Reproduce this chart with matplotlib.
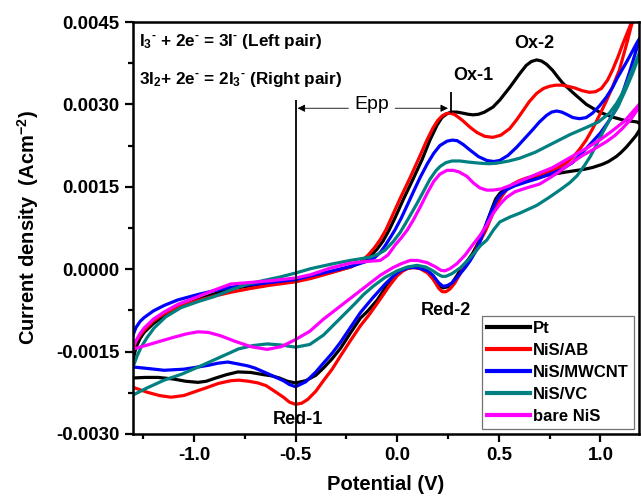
import matplotlib
matplotlib.use('Agg')
import matplotlib.pyplot as plt
from matplotlib.ticker import MultipleLocator, FormatStrFormatter

plt.rcParams['font.family'] = ['Liberation Sans', 'DejaVu Sans']
plt.rcParams['font.weight'] = 'bold'
plt.rcParams['axes.labelweight'] = 'bold'
plt.rcParams['axes.unicode_minus'] = False
plt.rcParams['mathtext.fontset'] = 'custom'
plt.rcParams['mathtext.rm'] = 'Liberation Sans:bold'
plt.rcParams['mathtext.bf'] = 'Liberation Sans:bold'
plt.rcParams['mathtext.default'] = 'bf'

# cyclic voltammograms, one closed loop per electrode (forward scan, then reverse scan)
pt_x = [-1.33, -1.30, -1.285, -1.265, -1.245, -1.20, -1.147, -1.08, -0.98, -0.90, -0.819, -0.72,
        -0.623, -0.50, -0.426, -0.33, -0.23, -0.18, -0.132, -0.10, -0.07, -0.04, -0.01, 0.029,
        0.078, 0.123, 0.16, 0.196, 0.22, 0.245, 0.265, 0.295, 0.324, 0.35, 0.373, 0.40, 0.43,
        0.471, 0.505, 0.554, 0.603, 0.635, 0.66, 0.686, 0.71, 0.735, 0.765, 0.79, 0.814, 0.84,
        0.863, 0.90, 0.931, 0.995, 1.059, 1.118, 1.181, 1.205,
        1.19, 1.175, 1.157, 1.127, 1.10, 1.078, 1.04, 1.010, 0.96, 0.922, 0.833, 0.735, 0.637,
        0.58, 0.554, 0.525, 0.505, 0.485, 0.471, 0.45, 0.43, 0.41, 0.392, 0.37, 0.343, 0.325,
        0.309, 0.290, 0.270, 0.25, 0.225, 0.205, 0.19, 0.176, 0.15, 0.113, 0.08, 0.05, 0.015,
        -0.02, -0.049, -0.10, -0.147, -0.181, -0.23, -0.279, -0.32, -0.363, -0.40, -0.45, -0.50,
        -0.54, -0.58, -0.62, -0.657, -0.72, -0.784, -0.84, -0.892, -0.94, -0.98, -1.04, -1.10,
        -1.176, -1.24, -1.30, -1.33]
pt_y = [-0.00190, -0.00166, -0.00142, -0.00126, -0.00115, -0.00099, -0.00085, -0.00071, -0.00055,
        -0.00045, -0.00036, -0.00030, -0.00025, -0.00021, -0.00015, -0.00006, 0.00004, 0.00012,
        0.00024, 0.00036, 0.00051, 0.00071, 0.00094, 0.00126, 0.00164, 0.00200, 0.00234, 0.00262,
        0.00276, 0.00283, 0.00286, 0.00286, 0.00284, 0.00282, 0.00281, 0.00282, 0.00286, 0.00295,
        0.00308, 0.00331, 0.00356, 0.00371, 0.00378, 0.00381, 0.00379, 0.00373, 0.00362, 0.00350,
        0.00339, 0.00330, 0.00322, 0.00310, 0.00300, 0.00286, 0.00277, 0.00271, 0.00268, 0.00262,
        0.00252, 0.00243, 0.00235, 0.00222, 0.00212, 0.00205, 0.00196, 0.00191, 0.00185, 0.00182,
        0.00177, 0.00171, 0.00162, 0.00154, 0.00149, 0.00144, 0.00138, 0.00128, 0.00115, 0.00094,
        0.00074, 0.00057, 0.00043, 0.00028, 0.00014, 0.00005, -0.00003, -0.00014, -0.00025,
        -0.00032, -0.00034, -0.00029, -0.00021, -0.00014, -0.00005, 0.00002, 0.00004, 0.00002,
        -0.00004, -0.00015, -0.00029, -0.00057, -0.00077, -0.00089, -0.00116, -0.00144, -0.00163,
        -0.00180, -0.00193, -0.00203, -0.00207, -0.00204, -0.00198, -0.00194, -0.00192, -0.00188,
        -0.00187, -0.00192, -0.00198, -0.00204, -0.00206, -0.00204, -0.00200, -0.00197, -0.00197,
        -0.00198, -0.00190]

ab_x = [-1.33, -1.30, -1.285, -1.265, -1.245, -1.20, -1.147, -1.08, -0.98, -0.90, -0.819, -0.72,
        -0.623, -0.50, -0.426, -0.33, -0.23, -0.18, -0.142, -0.11, -0.083, -0.055, -0.034, 0.015,
        0.064, 0.113, 0.145, 0.176, 0.20, 0.221, 0.24, 0.260, 0.28, 0.30, 0.324, 0.36, 0.392,
        0.43, 0.471, 0.51, 0.554, 0.59, 0.618, 0.65, 0.686, 0.72, 0.750, 0.78, 0.81, 0.84, 0.873,
        0.91, 0.946, 0.975, 1.005, 1.035, 1.059, 1.085, 1.108, 1.132, 1.157, 1.19,
        1.17, 1.15, 1.132, 1.11, 1.093, 1.06, 1.029, 0.995, 0.961, 0.93, 0.897, 0.865, 0.833,
        0.78, 0.735, 0.68, 0.637, 0.60, 0.569, 0.54, 0.515, 0.490, 0.465, 0.435, 0.407, 0.38,
        0.35, 0.324, 0.304, 0.284, 0.26, 0.240, 0.222, 0.205, 0.19, 0.176, 0.15, 0.113, 0.08,
        0.05, 0.029, 0.00, -0.040, -0.09, -0.14, -0.181, -0.23, -0.279, -0.32, -0.363, -0.40,
        -0.44, -0.47, -0.50, -0.53, -0.56, -0.60, -0.645, -0.686, -0.73, -0.78, -0.819, -0.88,
        -0.94, -0.98, -1.05, -1.113, -1.17, -1.23, -1.30, -1.33]
ab_y = [-0.00185, -0.00147, -0.00131, -0.00120, -0.00111, -0.00094, -0.00081, -0.00069, -0.00057,
        -0.00049, -0.00042, -0.00035, -0.00029, -0.00023, -0.00017, -0.00007, 0.00004, 0.00013,
        0.00026, 0.00040, 0.00054, 0.00072, 0.00089, 0.00129, 0.00167, 0.00207, 0.00234, 0.00257,
        0.00271, 0.00279, 0.00283, 0.00284, 0.00282, 0.00277, 0.00270, 0.00258, 0.00249, 0.00242,
        0.00240, 0.00244, 0.00256, 0.00273, 0.00288, 0.00305, 0.00320, 0.00329, 0.00333, 0.00335,
        0.00335, 0.00333, 0.00330, 0.00325, 0.00322, 0.00323, 0.00329, 0.00344, 0.00362, 0.00385,
        0.00408, 0.00430, 0.00453, 0.00490,
        0.00466, 0.00440, 0.00414, 0.00385, 0.00362, 0.00332, 0.00306, 0.00280, 0.00255, 0.00235,
        0.00218, 0.00204, 0.00194, 0.00182, 0.00176, 0.00170, 0.00166, 0.00161, 0.00155, 0.00145,
        0.00133, 0.00118, 0.00096, 0.00070, 0.00050, 0.00030, 0.00013, 0.00000, -0.00012,
        -0.00025, -0.00036, -0.00041, -0.00041, -0.00035, -0.00026, -0.00018, -0.00007, 0.00001,
        0.00003, 0.00001, -0.00003, -0.00012, -0.00031, -0.00058, -0.00084, -0.00103, -0.00130,
        -0.00158, -0.00182, -0.00203, -0.00222, -0.00237, -0.00244, -0.00246, -0.00242, -0.00233,
        -0.00223, -0.00212, -0.00207, -0.00204, -0.00202, -0.00203, -0.00208, -0.00216, -0.00221,
        -0.00230, -0.00233, -0.00230, -0.00224, -0.00215, -0.00185]

mwcnt_x = [-1.33, -1.30, -1.285, -1.265, -1.245, -1.20, -1.147, -1.08, -0.98, -0.90, -0.819, -0.72,
           -0.623, -0.50, -0.426, -0.33, -0.23, -0.16, -0.108, -0.08, -0.059, -0.035, -0.010, 0.02,
           0.049, 0.08, 0.113, 0.15, 0.18, 0.21, 0.245, 0.27, 0.295, 0.325, 0.358, 0.40, 0.441,
           0.475, 0.505, 0.545, 0.588, 0.63, 0.667, 0.70, 0.735, 0.76, 0.785, 0.81, 0.833, 0.865,
           0.897, 0.93, 0.961, 0.995, 1.029, 1.06, 1.083, 1.105, 1.127, 1.155, 1.181, 1.21,
           1.19, 1.165, 1.142, 1.115, 1.09, 1.065, 1.044, 1.00, 0.946, 0.90, 0.863, 0.81, 0.765,
           0.70, 0.637, 0.58, 0.539, 0.510, 0.490, 0.465, 0.441, 0.415, 0.392, 0.36, 0.333, 0.310,
           0.294, 0.27, 0.245, 0.225, 0.205, 0.19, 0.176, 0.15, 0.098, 0.06, 0.015, -0.02, -0.059,
           -0.12, -0.181, -0.23, -0.279, -0.32, -0.363, -0.40, -0.45, -0.50, -0.53, -0.56, -0.608,
           -0.65, -0.70, -0.735, -0.79, -0.833, -0.88, -0.93, -0.98, -1.05, -1.147, -1.22, -1.30,
           -1.33]
mwcnt_y = [-0.00150, -0.00120, -0.00106, -0.00095, -0.00088, -0.00076, -0.00066, -0.00056, -0.00046,
           -0.00039, -0.00033, -0.00028, -0.00024, -0.00019, -0.00012, -0.00004, 0.00005, 0.00013,
           0.00022, 0.00032, 0.00043, 0.00057, 0.00072, 0.00093, 0.00116, 0.00141, 0.00167, 0.00193,
           0.00211, 0.00225, 0.00233, 0.00235, 0.00234, 0.00227, 0.00217, 0.00205, 0.00198, 0.00196,
           0.00198, 0.00207, 0.00222, 0.00239, 0.00254, 0.00268, 0.00280, 0.00286, 0.00288, 0.00286,
           0.00282, 0.00276, 0.00274, 0.00276, 0.00284, 0.00297, 0.00313, 0.00331, 0.00348, 0.00362,
           0.00376, 0.00395, 0.00413, 0.00430,
           0.00415, 0.00385, 0.00357, 0.00327, 0.00300, 0.00284, 0.00271, 0.00248, 0.00226, 0.00208,
           0.00194, 0.00182, 0.00175, 0.00166, 0.00159, 0.00152, 0.00145, 0.00136, 0.00126, 0.00107,
           0.00085, 0.00058, 0.00036, 0.00016, 0.00002, -0.00008, -0.00015, -0.00025, -0.00030,
           -0.00031, -0.00025, -0.00018, -0.00011, -0.00003, 0.00003, 0.00003, -0.00003, -0.00013,
           -0.00027, -0.00052, -0.00079, -0.00106, -0.00133, -0.00153, -0.00171, -0.00187, -0.00205,
           -0.00214, -0.00210, -0.00203, -0.00195, -0.00188, -0.00180, -0.00176, -0.00172, -0.00169,
           -0.00171, -0.00175, -0.00178, -0.00182, -0.00184, -0.00181, -0.00178, -0.00150]

vc_x = [-1.33, -1.30, -1.28, -1.26, -1.23, -1.196, -1.14, -1.064, -0.98, -0.902, -0.82, -0.735,
        -0.65, -0.574, -0.50, -0.426, -0.314, -0.23, -0.132, -0.09, -0.059, -0.02, 0.015, 0.055,
        0.098, 0.13, 0.16, 0.19, 0.211, 0.24, 0.270, 0.31, 0.35, 0.407, 0.45, 0.49, 0.55, 0.603,
        0.68, 0.765, 0.85, 0.931, 0.99, 1.044, 1.08, 1.105, 1.127, 1.16, 1.191, 1.21,
        1.19, 1.16, 1.127, 1.085, 1.044, 1.01, 0.98, 0.95, 0.922, 0.885, 0.848, 0.80, 0.745,
        0.686, 0.603, 0.555, 0.505, 0.475, 0.441, 0.41, 0.392, 0.35, 0.309, 0.27, 0.240, 0.220,
        0.200, 0.176, 0.14, 0.098, 0.05, 0.00, -0.06, -0.118, -0.165, -0.206, -0.279, -0.363,
        -0.43, -0.50, -0.57, -0.64, -0.71, -0.780, -0.87, -0.960, -1.06, -1.147, -1.23, -1.30,
        -1.33]
vc_y = [-0.00205, -0.00178, -0.00158, -0.00142, -0.00124, -0.00107, -0.00087, -0.00070, -0.00059,
        -0.00050, -0.00038, -0.00027, -0.00020, -0.00014, -0.00007, 0.00001, 0.00010, 0.00016,
        0.00022, 0.00028, 0.00035, 0.00050, 0.00067, 0.00092, 0.00120, 0.00142, 0.00163, 0.00179,
        0.00187, 0.00194, 0.00197, 0.00197, 0.00195, 0.00193, 0.00192, 0.00193, 0.00197, 0.00202,
        0.00213, 0.00229, 0.00245, 0.00258, 0.00268, 0.00284, 0.00302, 0.00318, 0.00336, 0.00365,
        0.00393, 0.00410,
        0.00388, 0.00358, 0.00329, 0.00295, 0.00271, 0.00248, 0.00226, 0.00205, 0.00189, 0.00170,
        0.00157, 0.00144, 0.00130, 0.00116, 0.00102, 0.00095, 0.00086, 0.00072, 0.00053, 0.00043,
        0.00035, 0.00017, 0.00002, -0.00008, -0.00013, -0.00013, -0.00009, -0.00003, 0.00004,
        0.00007, 0.00004, -0.00003, -0.00015, -0.00031, -0.00046, -0.00062, -0.00089, -0.00120,
        -0.00137, -0.00142, -0.00138, -0.00136, -0.00139, -0.00145, -0.00160, -0.00175, -0.00191,
        -0.00202, -0.00216, -0.00229, -0.00205]

bare_x = [-1.305, -1.285, -1.265, -1.245, -1.20, -1.147, -1.08, -0.98, -0.90, -0.819, -0.72,
          -0.623, -0.50, -0.426, -0.33, -0.23, -0.15, -0.083, -0.045, -0.010, 0.02, 0.049, 0.08,
          0.113, 0.15, 0.18, 0.21, 0.245, 0.275, 0.305, 0.343, 0.375, 0.407, 0.44, 0.471, 0.51,
          0.56, 0.603, 0.68, 0.765, 0.85, 0.931, 1.00, 1.059, 1.12, 1.191, 1.205,
          1.191, 1.15, 1.108, 1.07, 1.029, 0.97, 0.912, 0.855, 0.799, 0.75, 0.701, 0.637, 0.58,
          0.539, 0.505, 0.471, 0.44, 0.407, 0.373, 0.335, 0.294, 0.26, 0.235, 0.215, 0.19, 0.147,
          0.10, 0.064, 0.02, -0.020, -0.083, -0.181, -0.279, -0.363, -0.43, -0.50, -0.57, -0.64,
          -0.72, -0.80, -0.87, -0.93, -0.98, -1.04, -1.10, -1.147, -1.22, -1.305]
bare_y = [-0.00146, -0.00130, -0.00117, -0.00107, -0.00091, -0.00078, -0.00064, -0.00050, -0.00038,
          -0.00027, -0.00024, -0.00021, -0.00016, -0.00010, 0.00002, 0.00011, 0.00014, 0.00016,
          0.00026, 0.00044, 0.00057, 0.00071, 0.00090, 0.00113, 0.00140, 0.00160, 0.00173, 0.00180,
          0.00180, 0.00177, 0.00169, 0.00157, 0.00148, 0.00144, 0.00144, 0.00146, 0.00153, 0.00160,
          0.00172, 0.00185, 0.00203, 0.00220, 0.00236, 0.00252, 0.00270, 0.00300, 0.00303,
          0.00295, 0.00273, 0.00256, 0.00243, 0.00232, 0.00219, 0.00207, 0.00193, 0.00178, 0.00166,
          0.00155, 0.00148, 0.00141, 0.00131, 0.00118, 0.00101, 0.00080, 0.00061, 0.00045, 0.00026,
          0.00010, 0.00001, -0.00003, -0.00002, 0.00004, 0.00012, 0.00016, 0.00016, 0.00010,
          0.00003, -0.00011, -0.00039, -0.00067, -0.00091, -0.00113, -0.00128, -0.00141, -0.00146,
          -0.00141, -0.00131, -0.00121, -0.00115, -0.00114, -0.00118, -0.00124, -0.00129, -0.00137,
          -0.00146]

labels = ['Pt', 'NiS/AB', 'NiS/MWCNT', 'NiS/VC', 'bare NiS']
colors = ['#000000', '#ff0000', '#0000ff', '#008080', '#ff00ff']
x_ticks = [-1.0, -0.5, 0.0, 0.5, 1.0]
y_ticks = [-0.0030, -0.0015, 0.0000, 0.0015, 0.0030, 0.0045]

fig = plt.figure(figsize=(6.41, 4.97), dpi=100)
ax = fig.add_axes([133 / 641, 63 / 497, 506 / 641, 412 / 497])

series = [(pt_x, pt_y), (ab_x, ab_y), (mwcnt_x, mwcnt_y), (vc_x, vc_y), (bare_x, bare_y)]
for (xs, ys), lab, col in zip(series, labels, colors):
    ax.plot(xs, ys, color=col, lw=2.3, label=lab, solid_joinstyle='round')

ax.set_xlim(-1.3, 1.19)
ax.set_ylim(-0.003, 0.0045)
ax.set_xticks(x_ticks)
ax.set_yticks(y_ticks)
ax.xaxis.set_minor_locator(MultipleLocator(0.25))
ax.yaxis.set_minor_locator(MultipleLocator(0.00075))
ax.xaxis.set_major_formatter(FormatStrFormatter('%.1f'))
ax.yaxis.set_major_formatter(FormatStrFormatter('%.4f'))
ax.tick_params(which='major', direction='out', length=6, width=1.6, labelsize=13.5)
ax.tick_params(which='minor', direction='out', length=3.5, width=1.6)
for sp in ax.spines.values():
    sp.set_linewidth(1.8)

ax.set_xlabel('Potential (V)', fontsize=14.5, labelpad=8)
ax.set_ylabel('Current density  (Acm$^{-2}$)', fontsize=14.5, labelpad=11)

# reaction labels
hy = r'$^{\text{-}}$'
ax.text(0.012, 0.953, 'I$_3$' + hy + ' + 2e' + hy + ' = 3I' + hy + ' (Left pair)',
        transform=ax.transAxes, fontsize=12.3, ha='left', va='center')
ax.text(0.012, 0.861, '3I$_2$+ 2e' + hy + ' = 2I$_3$' + hy + ' (Right pair)',
        transform=ax.transAxes, fontsize=12.3, ha='left', va='center')

# peak separation marker
ax.vlines(-0.5, -0.003, 0.00308, color='black', lw=1.3)
ax.vlines(0.265, 0.00284, 0.00322, color='black', lw=1.3)
arrow_kw = dict(arrowstyle='-|>', color='black', lw=0.6, mutation_scale=11, shrinkA=0, shrinkB=0)
ax.annotate('', xy=(-0.49, 0.00293), xytext=(-0.24, 0.00293), arrowprops=arrow_kw)
ax.annotate('', xy=(0.25, 0.00293), xytext=(-0.01, 0.00293), arrowprops=arrow_kw)
ax.text(-0.123, 0.00291, 'Epp', fontsize=14, fontweight='normal', ha='center', va='baseline')

ax.text(0.373, 0.00353, 'Ox-1', fontsize=13, ha='center', va='center')
ax.text(0.676, 0.00411, 'Ox-2', fontsize=13, ha='center', va='center')
ax.text(-0.49, -0.00273, 'Red-1', fontsize=13, ha='center', va='center')
ax.text(0.24, -0.00075, 'Red-2', fontsize=13, ha='center', va='center')

leg = ax.legend(loc='lower right', fontsize=12, frameon=True, fancybox=False, framealpha=1,
                edgecolor='0.45', handlelength=2.6, handletextpad=0.2, labelspacing=0.42,
                borderpad=0.3, borderaxespad=0.3)
leg.get_frame().set_linewidth(0.9)
for line in leg.get_lines():
    line.set_linewidth(3)

fig.savefig('out.png', dpi=100)
